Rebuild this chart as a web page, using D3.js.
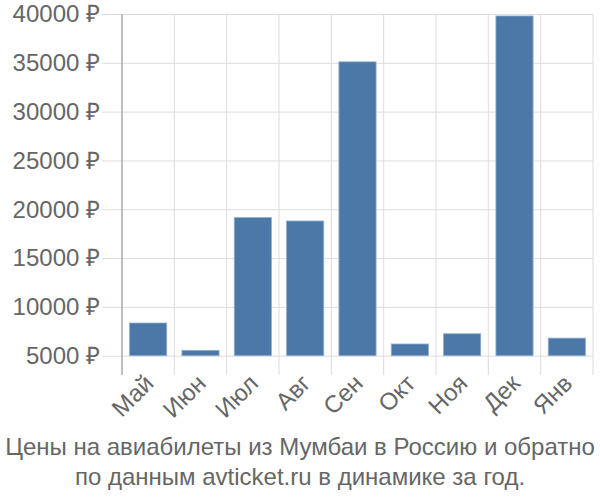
<!DOCTYPE html>
<html>
<head>
<meta charset="utf-8">
<script src="https://cdn.jsdelivr.net/npm/d3@7"></script>
<style>
  body { margin: 0; background: #fff; }
  text { font-family: "Liberation Sans", Arial, sans-serif; fill: #666; }
</style>
</head>
<body>
<div id="chart"></div>
<script>
// Chart data
const months = ["Май", "Июн", "Июл", "Авг", "Сен", "Окт", "Ноя", "Дек", "Янв"];
const prices = [8350, 5550, 19150, 18800, 35100, 6200, 7250, 39800, 6800];
const yTicks = [5000, 10000, 15000, 20000, 25000, 30000, 35000, 40000];
const titleLines = [
  "Цены на авиабилеты из Мумбаи в Россию и обратно",
  "по данным avticket.ru в динамике за год."
];

const width = 600;
const height = 500;
const margin = { top: 14, right: 7, left: 122 };
const baseY = 355.7;
const fontSize = "24px";

const svg = d3.select("#chart")
  .append("svg")
  .attr("width", width)
  .attr("height", height);

// Scales
const x = d3.scaleBand()
  .domain(months)
  .range([margin.left, width - margin.right])
  .paddingInner(0.29)
  .paddingOuter(0.145);

const bandStep = x.step();
const y = d3.scaleLinear()
  .domain([5000, 40000])
  .range([baseY, margin.top]);

// Horizontal gridlines with tick stubs
svg.append("g")
  .attr("transform", `translate(${width - margin.right},0)`)
  .call(d3.axisLeft(y).tickValues(yTicks)
    .tickSize(width - margin.right - margin.left + 20).tickFormat(""))
  .call((g) => g.select(".domain").remove())
  .selectAll("line")
  .attr("stroke", "#ddd")
  .attr("stroke-width", 1);

// Vertical gridlines at band edges
const edges = months.map((m) => x(m) - (bandStep - x.bandwidth()) / 2);
edges.push(width - margin.right);
svg.append("g")
  .selectAll("line")
  .data(edges.slice(1))
  .enter()
  .append("line")
  .attr("x1", (d) => d)
  .attr("x2", (d) => d)
  .attr("y1", margin.top)
  .attr("y2", 375)
  .attr("stroke", "#ddd");

// Left axis line
svg.append("line")
  .attr("x1", margin.left)
  .attr("x2", margin.left)
  .attr("y1", margin.top)
  .attr("y2", 375)
  .attr("stroke", "#aaa")
  .attr("stroke-width", 1.5);

// Y tick labels
svg.append("g")
  .selectAll("text")
  .data(yTicks)
  .enter()
  .append("text")
  .attr("x", 100)
  .attr("y", (d) => y(d))
  .attr("dy", "0.35em")
  .attr("text-anchor", "end")
  .style("font-size", fontSize)
  .text((d) => `${d} ₽`);

// Bars
svg.append("g")
  .selectAll("rect")
  .data(months)
  .enter()
  .append("rect")
  .attr("x", (d) => x(d))
  .attr("y", (d, i) => y(prices[i]))
  .attr("width", x.bandwidth())
  .attr("height", (d, i) => y(5000) - y(prices[i]))
  .attr("fill", "#4c78a8")
  .attr("stroke", "#8fb0d3")
  .attr("stroke-width", 0.8);

// X labels, rotated
svg.append("g")
  .selectAll("text")
  .data(months)
  .enter()
  .append("text")
  .attr("transform", (d) => `translate(${x(d) + x.bandwidth() / 2 - 5},${373}) rotate(-45)`)
  .attr("text-anchor", "end")
  .attr("dy", "0.7em")
  .style("font-size", fontSize)
  .text((d) => d);

// Title
svg.append("g")
  .selectAll("text")
  .data(titleLines)
  .enter()
  .append("text")
  .attr("x", width / 2)
  .attr("y", (d, i) => 455 + i * 30)
  .attr("text-anchor", "middle")
  .style("font-size", fontSize)
  .text((d) => d);
</script>
</body>
</html>
